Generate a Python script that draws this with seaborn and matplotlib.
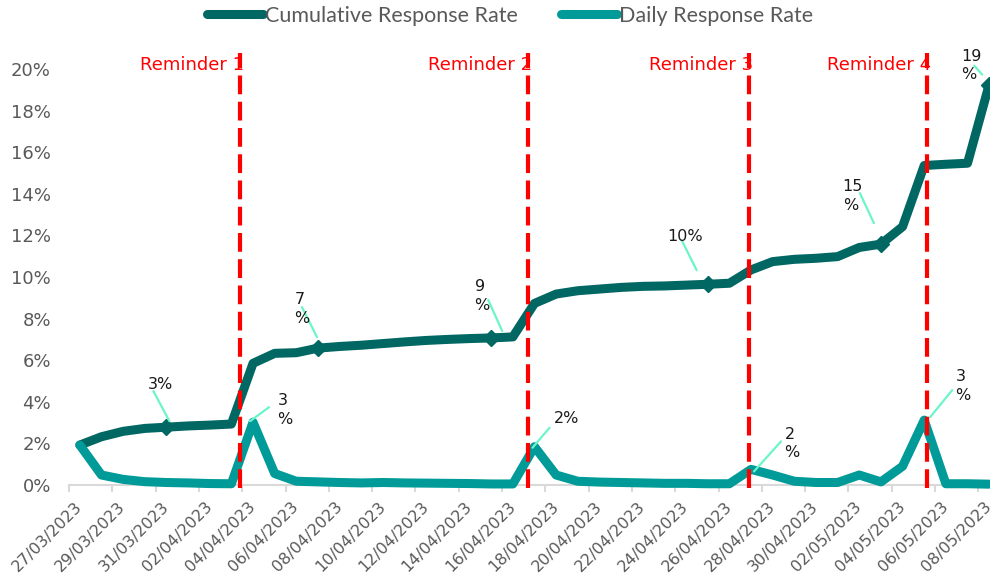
"""Cumulative and daily survey response rate, with the reminder dates marked."""
import numpy as np
import pandas as pd
import matplotlib
matplotlib.use('Agg')
import matplotlib.pyplot as plt
import seaborn as sns

# categories: one point per day
DATES = pd.date_range('2023-03-27', '2023-05-08', freq='D')

# response rates in %
CUMULATIVE = [1.92, 2.32, 2.58, 2.72, 2.78, 2.84, 2.88, 2.93, 5.85, 6.33,
              6.36, 6.58, 6.66, 6.72, 6.80, 6.88, 6.95, 7.00, 7.04, 7.07,
              7.12, 8.73, 9.18, 9.34, 9.42, 9.50, 9.55, 9.57, 9.61, 9.65,
              9.70, 10.34, 10.74, 10.85, 10.90, 10.98, 11.42, 11.58, 12.42,
              15.36, 15.42, 15.47, 19.25]
DAILY = [1.92, 0.48, 0.27, 0.16, 0.12, 0.10, 0.07, 0.06, 3.02, 0.55,
         0.18, 0.15, 0.12, 0.10, 0.12, 0.10, 0.09, 0.08, 0.07, 0.05,
         0.05, 1.84, 0.48, 0.18, 0.14, 0.12, 0.10, 0.08, 0.08, 0.06,
         0.06, 0.75, 0.48, 0.18, 0.12, 0.12, 0.48, 0.15, 0.90, 3.12,
         0.06, 0.06, 0.04]

# reminders sit between days (category position)
REMINDER_POS = [7.39, 20.70, 30.93, 39.13]
REMINDER_TEXT = ['Reminder 1', 'Reminder 2', 'Reminder 3', 'Reminder 4']

CUM_LABEL_IDX = [4, 11, 19, 29, 37, 42]
CUM_LABEL_TEXT = ['3%', '7\n%', '9\n%', '10%', '15\n%', '19\n%']
DAILY_LABEL_IDX = [8, 21, 31, 39]
DAILY_LABEL_TEXT = ['3\n%', '2%', '2\n%', '3\n%']

# label placement, pixels relative to the point (x right, y down):
# (text centre), (leader start), (leader end)
CUM_LABEL_OFF = [((-6, -43), (-13, -36), (3, -6)),
                 ((-16, -39), (-16, -41), (-1, -11)),
                 ((-9, -42), (-3, -38), (11, -7)),
                 ((-23, -48), (-26, -44), (-11, -14)),
                 ((-28, -48), (-21, -51), (-7, -21)),
                 ((-18, -19), (-15, -19), (-7, -10))]
DAILY_LABEL_OFF = [((32, -12), (16, -15), (-3, -1)),
                   ((32, -28), (15, -19), (-2, 1)),
                   ((41, -26), (30, -28), (3, 2)),
                   ((39, -34), (28, -30), (6, -3))]

C_CUM = '#006762'
C_DAILY = '#009B98'
C_LEAD = '#6CF5CA'
C_TICK = '#595959'
C_AXIS = '#D9D9D9'


def put_label(ax, idx, val, text, offsets):
    """Write a data label with its leader line, offsets in pixels."""
    (tx, ty), (sx, sy), (ex, ey) = offsets
    x0, y0 = ax.transData.transform((idx, val))
    inv = ax.transAxes.inverted()
    pts = inv.transform([(x0 + sx, y0 - sy), (x0 + ex, y0 - ey)])
    ax.plot(pts[:, 0], pts[:, 1], transform=ax.transAxes, color=C_LEAD,
            lw=1.6, clip_on=False, zorder=6)
    tpos = inv.transform((x0 + tx, y0 - ty))
    ax.text(tpos[0], tpos[1], text, transform=ax.transAxes, ha='center',
            va='center', multialignment='left', fontsize=11.5,
            color='#1a1a1a', linespacing=1.3, zorder=7)


def main():
    sns.set_theme(style='white')
    plt.rcParams['font.family'] = ['DejaVu Sans']

    dframe = pd.DataFrame({'pos': np.arange(len(DATES)),
                           'Cumulative Response Rate': CUMULATIVE,
                           'Daily Response Rate': DAILY})

    fig = plt.figure(figsize=(9.9, 5.78), dpi=100)
    ax = fig.add_axes([69 / 990, 93 / 578, 931 / 990, 416 / 578])

    line_kw = dict(lw=6.5, solid_capstyle='round', solid_joinstyle='round',
                   clip_on=False)
    sns.lineplot(data=dframe, x='pos', y='Cumulative Response Rate', ax=ax,
                 color=C_CUM, label='Cumulative Response Rate', zorder=3,
                 **line_kw)
    sns.lineplot(data=dframe, x='pos', y='Daily Response Rate', ax=ax,
                 color=C_DAILY, label='Daily Response Rate', zorder=4,
                 **line_kw)
    ax.plot(dframe['pos'].iloc[CUM_LABEL_IDX],
            dframe['Cumulative Response Rate'].iloc[CUM_LABEL_IDX],
            ls='none', marker='D', ms=8, color=C_CUM, zorder=3,
            label='_nolegend_')

    ax.set_xlim(-0.5, len(DATES) - 0.5)
    ax.set_ylim(0, 20)

    # reminder markers
    for pos, txt in zip(REMINDER_POS, REMINDER_TEXT):
        ax.plot([pos, pos], [-0.15, 20.77], color='#FF0000', lw=3,
                dashes=(4.5, 1.8), clip_on=False, zorder=8)
        x0, _ = ax.transData.transform((pos, 0))
        _, y0 = ax.transData.transform((0, 20))
        tpos = ax.transAxes.inverted().transform((x0 + 4, y0 + 4))
        ax.text(tpos[0], tpos[1], txt, transform=ax.transAxes, ha='right',
                va='center', fontsize=13, color='#FF0000', zorder=2)

    for idx, txt, off in zip(CUM_LABEL_IDX, CUM_LABEL_TEXT, CUM_LABEL_OFF):
        put_label(ax, idx, CUMULATIVE[idx], txt, off)
    for idx, txt, off in zip(DAILY_LABEL_IDX, DAILY_LABEL_TEXT,
                             DAILY_LABEL_OFF):
        put_label(ax, idx, DAILY[idx], txt, off)

    # axes styling
    ax.set_xticks(np.arange(0, len(DATES), 2))
    ax.set_xticklabels(DATES[::2].strftime('%d/%m/%Y'), rotation=45,
                       ha='right', va='center', rotation_mode='anchor')
    ax.set_xticks(np.arange(-0.5, len(DATES), 2), minor=True)
    ax.tick_params(axis='x', which='major', length=0, pad=14,
                   labelsize=11.5, labelcolor=C_TICK)
    ax.tick_params(axis='x', which='minor', length=5, width=1.5,
                   color=C_AXIS, direction='out', bottom=True)
    ax.set_yticks(np.arange(0, 21, 2))
    ax.set_yticklabels(['{}%'.format(v) for v in range(0, 21, 2)])
    ax.tick_params(axis='y', length=0, pad=13, labelsize=13,
                   labelcolor=C_TICK)
    ax.set_xlabel('')
    ax.set_ylabel('')
    for side in ['left', 'right', 'top']:
        ax.spines[side].set_visible(False)
    ax.spines['bottom'].set_color(C_AXIS)
    ax.spines['bottom'].set_linewidth(1.5)
    ax.grid(False)

    handles, labels = ax.get_legend_handles_labels()
    ax.legend(handles, labels, loc='center',
              bbox_to_anchor=(0.515, 1 - 16 / 578),
              bbox_transform=fig.transFigure, ncol=2, frameon=False,
              prop={'family': 'Lato', 'size': 15.5}, labelcolor=C_TICK,
              handlelength=2.6, handletextpad=0.1, columnspacing=2.0)

    fig.savefig('out.png', dpi=100, facecolor='white')


if __name__ == '__main__':
    main()
